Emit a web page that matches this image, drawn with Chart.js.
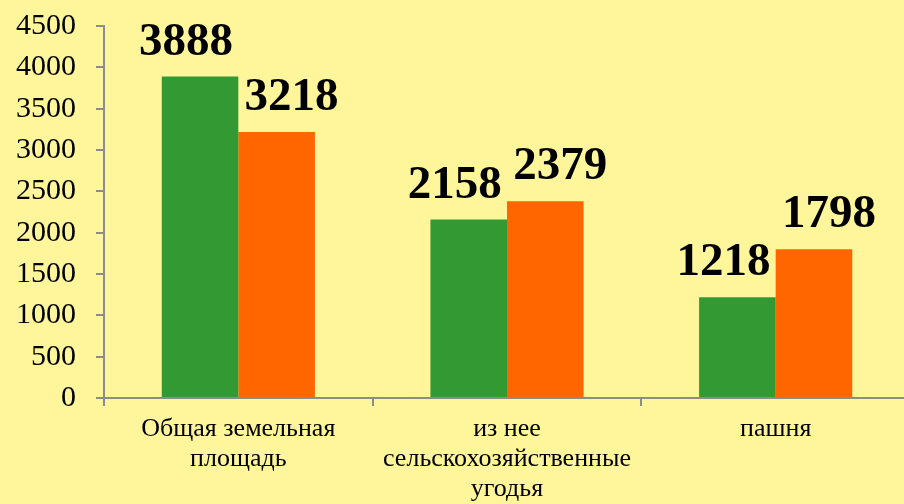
<!DOCTYPE html>
<html>
<head>
<meta charset="utf-8">
<script src="https://cdn.jsdelivr.net/npm/chart.js@4.4.1/dist/chart.umd.min.js"></script>
<style>
    html, body { margin: 0; padding: 0; background: #FFF69B; overflow: hidden; }
    #wrap { width: 912px; height: 516px; position: relative; top: -12px; }
</style>
</head>
<body>
<div id="wrap"><canvas id="chart"></canvas></div>
<script>
// --- данные ---
const categories = [
    ['Общая земельная', 'площадь'],
    ['из нее', 'сельскохозяйственные', 'угодья'],
    ['пашня']
];
const seriesA = [3888, 2158, 1218];
const seriesB = [3218, 2379, 1798];
const yTicks = [0, 500, 1000, 1500, 2000, 2500, 3000, 3500, 4000, 4500];

const SERIF = "'Liberation Serif', 'Times New Roman', serif";
const AXIS = '#8C8C8C';

// подписи значений над столбцами (сдвиг по x задан для каждого ряда)
const valueLabels = {
    id: 'valueLabels',
    afterDatasetsDraw(chart) {
        const ctx = chart.ctx;
        ctx.save();
        ctx.font = 'bold 47px ' + SERIF;
        ctx.fillStyle = '#000';
        ctx.textAlign = 'center';
        ctx.textBaseline = 'alphabetic';
        chart.data.datasets.forEach((ds, i) => {
            chart.getDatasetMeta(i).data.forEach((bar, j) => {
                ctx.fillText(ds.data[j], bar.x + (ds.labelShift || 0), bar.y - 22);
            });
        });
        ctx.restore();
    }
};

new Chart(document.getElementById('chart'), {
    type: 'bar',
    data: {
        labels: categories,
        datasets: [
            { data: seriesA, backgroundColor: '#339933', labelShift: -14 },
            { data: seriesB, backgroundColor: '#FF6600', labelShift: 15 }
        ]
    },
    options: {
        responsive: true,
        maintainAspectRatio: false,
        animation: false,
        layout: { padding: { top: 12, right: 2, left: 0, bottom: 0 } },
        plugins: { legend: { display: false }, tooltip: { enabled: false } },
        datasets: { bar: { categoryPercentage: 0.57, barPercentage: 1 } },
        scales: {
            x: {
                grid: { drawOnChartArea: false, color: AXIS, tickLength: 8, lineWidth: 2 },
                border: { color: AXIS, width: 2 },
                ticks: {
                    color: '#000', padding: 8, maxRotation: 0, autoSkip: false,
                    font: { family: SERIF, size: 26, lineHeight: 1.15 }
                },
                afterFit: s => { s.height = 106; }
            },
            y: {
                min: 0, max: 4500,
                afterBuildTicks: s => { s.ticks = yTicks.map(v => ({ value: v })); },
                grid: { drawOnChartArea: false, color: AXIS, tickLength: 8, lineWidth: 2 },
                border: { color: AXIS, width: 2 },
                ticks: {
                    color: '#000', padding: 20,
                    font: { family: SERIF, size: 30 },
                    callback: v => String(v)
                },
                afterFit: s => { s.width = 104; }
            }
        }
    },
    plugins: [valueLabels]
});
</script>
</body>
</html>
